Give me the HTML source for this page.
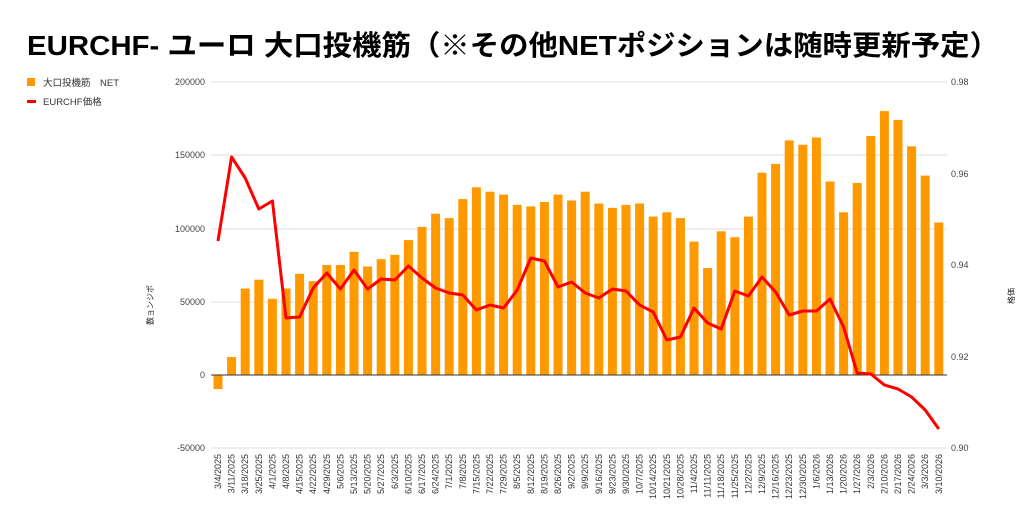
<!DOCTYPE html>
<html><head><meta charset="utf-8"><style>
body{margin:0;background:#fff;width:1024px;height:530px;overflow:hidden}
svg{display:block}
text{font-family:"Liberation Sans","Noto Sans CJK JP",sans-serif}
</style></head><body>
<svg width="1024" height="530" xmlns="http://www.w3.org/2000/svg">
<text x="27" y="55" font-size="28" font-weight="bold" fill="#000" textLength="972" lengthAdjust="spacingAndGlyphs">EURCHF- ユーロ 大口投機筋（※その他NETポジションは随時更新予定）</text>
<rect x="27" y="78" width="8" height="8" fill="#ff9900"/>
<text x="43" y="86" font-size="9.5" fill="#333">大口投機筋　NET</text>
<rect x="27" y="100" width="9" height="3" fill="#ff0000"/>
<text x="43" y="105" font-size="9.5" fill="#333">EURCHF価格</text>
<g stroke="#ddd" stroke-width="1">
<line x1="211" y1="82" x2="947" y2="82"/><line x1="211" y1="155" x2="947" y2="155"/>
<line x1="211" y1="229" x2="947" y2="229"/><line x1="211" y1="302" x2="947" y2="302"/>
<line x1="211" y1="448" x2="947" y2="448"/>
</g>
<g font-size="9" fill="#444" text-anchor="end">
<text x="205" y="85">200000</text><text x="205" y="158">150000</text><text x="205" y="232">100000</text>
<text x="205" y="305">50000</text><text x="205" y="378">0</text><text x="205" y="451">-50000</text>
</g>
<g font-size="9" fill="#444">
<text x="951" y="85">0.98</text><text x="951" y="177">0.96</text><text x="951" y="268">0.94</text>
<text x="951" y="360">0.92</text><text x="951" y="451">0.90</text>
</g>
<text transform="translate(153,305) rotate(-90)" font-size="8" fill="#222" text-anchor="middle">数ョンジポ</text>
<text transform="translate(1014,296) rotate(-90)" font-size="8" fill="#222" text-anchor="middle">格価</text>
<g fill="#ff9900">
<rect x="213.5" y="375" width="9" height="14"/>
<rect x="227.1" y="357" width="9" height="18"/>
<rect x="240.7" y="288.5" width="9" height="86.5"/>
<rect x="254.3" y="279.7" width="9" height="95.3"/>
<rect x="267.9" y="298.8" width="9" height="76.2"/>
<rect x="281.5" y="288.5" width="9" height="86.5"/>
<rect x="295.1" y="273.8" width="9" height="101.2"/>
<rect x="308.7" y="281.2" width="9" height="93.8"/>
<rect x="322.3" y="265" width="9" height="110"/>
<rect x="335.9" y="265" width="9" height="110"/>
<rect x="349.5" y="251.8" width="9" height="123.2"/>
<rect x="363.1" y="266.5" width="9" height="108.5"/>
<rect x="376.7" y="259.2" width="9" height="115.8"/>
<rect x="390.3" y="254.8" width="9" height="120.2"/>
<rect x="403.9" y="240.1" width="9" height="134.9"/>
<rect x="417.5" y="226.9" width="9" height="148.1"/>
<rect x="431.1" y="213.7" width="9" height="161.3"/>
<rect x="444.7" y="218.1" width="9" height="156.9"/>
<rect x="458.3" y="199.1" width="9" height="175.9"/>
<rect x="471.9" y="187.3" width="9" height="187.7"/>
<rect x="485.5" y="191.7" width="9" height="183.3"/>
<rect x="499.1" y="194.6" width="9" height="180.4"/>
<rect x="512.7" y="204.9" width="9" height="170.1"/>
<rect x="526.3" y="206.4" width="9" height="168.6"/>
<rect x="539.9" y="202" width="9" height="173"/>
<rect x="553.5" y="194.6" width="9" height="180.4"/>
<rect x="567.1" y="200.5" width="9" height="174.5"/>
<rect x="580.7" y="191.7" width="9" height="183.3"/>
<rect x="594.3" y="203.5" width="9" height="171.5"/>
<rect x="607.9" y="207.9" width="9" height="167.1"/>
<rect x="621.5" y="204.9" width="9" height="170.1"/>
<rect x="635.1" y="203.5" width="9" height="171.5"/>
<rect x="648.7" y="216.6" width="9" height="158.4"/>
<rect x="662.3" y="212.3" width="9" height="162.7"/>
<rect x="675.9" y="218.1" width="9" height="156.9"/>
<rect x="689.5" y="241.6" width="9" height="133.4"/>
<rect x="703.1" y="268" width="9" height="107"/>
<rect x="716.7" y="231.3" width="9" height="143.7"/>
<rect x="730.3" y="237.2" width="9" height="137.8"/>
<rect x="743.9" y="216.6" width="9" height="158.4"/>
<rect x="757.5" y="172.7" width="9" height="202.3"/>
<rect x="771.1" y="163.9" width="9" height="211.1"/>
<rect x="784.7" y="140.4" width="9" height="234.6"/>
<rect x="798.3" y="144.8" width="9" height="230.2"/>
<rect x="811.9" y="137.5" width="9" height="237.5"/>
<rect x="825.5" y="181.5" width="9" height="193.5"/>
<rect x="839.1" y="212.3" width="9" height="162.7"/>
<rect x="852.7" y="183" width="9" height="192"/>
<rect x="866.3" y="136" width="9" height="239"/>
<rect x="879.9" y="111.1" width="9" height="263.9"/>
<rect x="893.5" y="119.9" width="9" height="255.1"/>
<rect x="907.1" y="146.3" width="9" height="228.7"/>
<rect x="920.7" y="175.6" width="9" height="199.4"/>
<rect x="934.3" y="222.5" width="9" height="152.5"/>
</g>
<line x1="211" y1="375" x2="947" y2="375" stroke="#333" stroke-width="1"/>
<polyline fill="none" stroke="#ff0000" stroke-width="3" stroke-linejoin="round" points="218,241 231.6,157 245.2,178 258.8,209 272.4,201 286,318 299.6,317 313.2,288 326.8,273 340.4,289 354,270 367.6,289 381.2,279 394.8,280 408.4,266 422,278 435.6,288 449.2,293 462.8,295 476.4,310 490,305 503.6,308 517.2,290 530.8,258 544.4,261 558,287 571.6,282 585.2,293 598.8,298 612.4,289 626,291 639.6,305 653.2,312 666.8,340 680.4,337 694,308 707.6,323 721.2,329 734.8,291 748.4,296 762,277 775.6,292 789.2,315 802.8,311 816.4,311 830,299 843.6,327 857.2,373 870.8,374 884.4,385 898,389 911.6,397 925.2,410 938.8,429"/>
<g font-size="9" fill="#333" text-anchor="end">
<text transform="translate(221,454) rotate(-90)">3/4/2025</text>
<text transform="translate(234.6,454) rotate(-90)">3/11/2025</text>
<text transform="translate(248.2,454) rotate(-90)">3/18/2025</text>
<text transform="translate(261.8,454) rotate(-90)">3/25/2025</text>
<text transform="translate(275.4,454) rotate(-90)">4/1/2025</text>
<text transform="translate(289,454) rotate(-90)">4/8/2025</text>
<text transform="translate(302.6,454) rotate(-90)">4/15/2025</text>
<text transform="translate(316.2,454) rotate(-90)">4/22/2025</text>
<text transform="translate(329.8,454) rotate(-90)">4/29/2025</text>
<text transform="translate(343.4,454) rotate(-90)">5/6/2025</text>
<text transform="translate(357,454) rotate(-90)">5/13/2025</text>
<text transform="translate(370.6,454) rotate(-90)">5/20/2025</text>
<text transform="translate(384.2,454) rotate(-90)">5/27/2025</text>
<text transform="translate(397.8,454) rotate(-90)">6/3/2025</text>
<text transform="translate(411.4,454) rotate(-90)">6/10/2025</text>
<text transform="translate(425,454) rotate(-90)">6/17/2025</text>
<text transform="translate(438.6,454) rotate(-90)">6/24/2025</text>
<text transform="translate(452.2,454) rotate(-90)">7/1/2025</text>
<text transform="translate(465.8,454) rotate(-90)">7/8/2025</text>
<text transform="translate(479.4,454) rotate(-90)">7/15/2025</text>
<text transform="translate(493,454) rotate(-90)">7/22/2025</text>
<text transform="translate(506.6,454) rotate(-90)">7/29/2025</text>
<text transform="translate(520.2,454) rotate(-90)">8/5/2025</text>
<text transform="translate(533.8,454) rotate(-90)">8/12/2025</text>
<text transform="translate(547.4,454) rotate(-90)">8/19/2025</text>
<text transform="translate(561,454) rotate(-90)">8/26/2025</text>
<text transform="translate(574.6,454) rotate(-90)">9/2/2025</text>
<text transform="translate(588.2,454) rotate(-90)">9/9/2025</text>
<text transform="translate(601.8,454) rotate(-90)">9/16/2025</text>
<text transform="translate(615.4,454) rotate(-90)">9/23/2025</text>
<text transform="translate(629,454) rotate(-90)">9/30/2025</text>
<text transform="translate(642.6,454) rotate(-90)">10/7/2025</text>
<text transform="translate(656.2,454) rotate(-90)">10/14/2025</text>
<text transform="translate(669.8,454) rotate(-90)">10/21/2025</text>
<text transform="translate(683.4,454) rotate(-90)">10/28/2025</text>
<text transform="translate(697,454) rotate(-90)">11/4/2025</text>
<text transform="translate(710.6,454) rotate(-90)">11/11/2025</text>
<text transform="translate(724.2,454) rotate(-90)">11/18/2025</text>
<text transform="translate(737.8,454) rotate(-90)">11/25/2025</text>
<text transform="translate(751.4,454) rotate(-90)">12/2/2025</text>
<text transform="translate(765,454) rotate(-90)">12/9/2025</text>
<text transform="translate(778.6,454) rotate(-90)">12/16/2025</text>
<text transform="translate(792.2,454) rotate(-90)">12/23/2025</text>
<text transform="translate(805.8,454) rotate(-90)">12/30/2025</text>
<text transform="translate(819.4,454) rotate(-90)">1/6/2026</text>
<text transform="translate(833,454) rotate(-90)">1/13/2026</text>
<text transform="translate(846.6,454) rotate(-90)">1/20/2026</text>
<text transform="translate(860.2,454) rotate(-90)">1/27/2026</text>
<text transform="translate(873.8,454) rotate(-90)">2/3/2026</text>
<text transform="translate(887.4,454) rotate(-90)">2/10/2026</text>
<text transform="translate(901,454) rotate(-90)">2/17/2026</text>
<text transform="translate(914.6,454) rotate(-90)">2/24/2026</text>
<text transform="translate(928.2,454) rotate(-90)">3/3/2026</text>
<text transform="translate(941.8,454) rotate(-90)">3/10/2026</text>
</g>
</svg>
</body></html>
